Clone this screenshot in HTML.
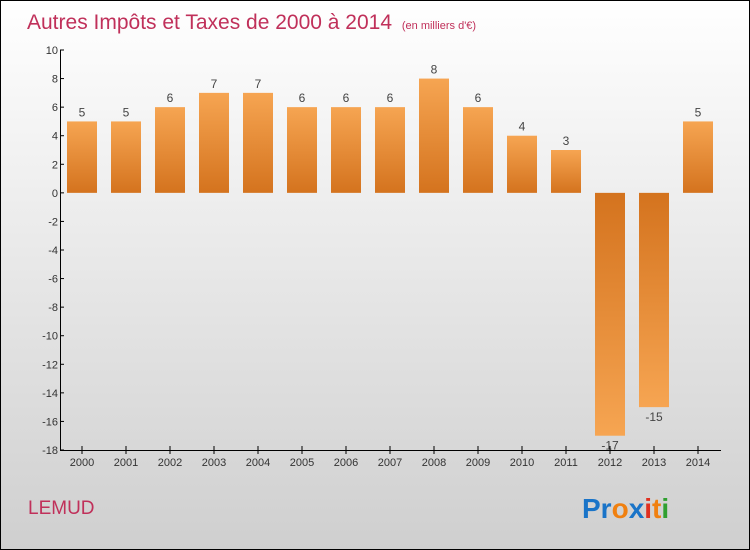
<!DOCTYPE html>
<html><head><meta charset="utf-8"><style>
body{margin:0}
svg{display:block;font-family:"Liberation Sans",sans-serif}
</style></head><body>
<svg id="c" width="750" height="550">
<defs>
<linearGradient id="bg" x1="0" y1="0" x2="0" y2="1"><stop offset="0" stop-color="#ffffff"/><stop offset="1" stop-color="#cfcfcf"/></linearGradient>
<linearGradient id="pos" x1="0" y1="0" x2="0" y2="1"><stop offset="0" stop-color="#f6a552"/><stop offset="1" stop-color="#d4731e"/></linearGradient>
<linearGradient id="neg" x1="0" y1="0" x2="0" y2="1"><stop offset="0" stop-color="#d4731e"/><stop offset="1" stop-color="#f6a552"/></linearGradient>
</defs>
<rect x="0.5" y="0.5" width="749" height="549" fill="url(#bg)" stroke="#000"/>
<text x="27" y="29" font-size="21" fill="#c0305a">Autres Impôts et Taxes de 2000 à 2014 <tspan font-size="11" dx="4">(en milliers d'€)</tspan></text>
<g id="plot"></g>
<text x="28" y="514" font-size="19" fill="#c0305a">LEMUD</text>
<text x="582" y="518" font-size="28" font-weight="bold"><tspan fill="#1a74c8">Pr</tspan><tspan fill="#f08010">o</tspan><tspan fill="#1a74c8">x</tspan><tspan fill="#e03020">i</tspan><tspan fill="#f08010">t</tspan><tspan fill="#30a030">i</tspan></text>
</svg>
<script>
const categories=["2000","2001","2002","2003","2004","2005","2006","2007","2008","2009","2010","2011","2012","2013","2014"];
const values=[5,5,6,7,7,6,6,6,8,6,4,3,-17,-15,5];
const labels=["5","5","6","7","7","6","6","6","8","6","4","3","-17","-15","5"];
const yTicks=[10,8,6,4,2,0,-2,-4,-6,-8,-10,-12,-14,-16,-18];
const NS="http://www.w3.org/2000/svg";
const g=document.getElementById('plot');
const yMin=-18,yMax=10,plotTop=50,plotBot=450;
const y=v=>plotTop+(yMax-v)/(yMax-yMin)*(plotBot-plotTop);
const x=i=>82+i*44;
function mk(t,a){const e=document.createElementNS(NS,t);for(const k in a)e.setAttribute(k,a[k]);g.appendChild(e);return e;}
categories.forEach((c,i)=>{
 const v=values[i];const y0=y(0),y1=y(v);
 const r=mk('rect',{x:x(i)-15,y:Math.min(y0,y1),width:30,height:Math.abs(y1-y0),fill:v>=0?'url(#pos)':'url(#neg)'});
 
 
 const t=mk('text',{x:x(i),y:v>=0?y1-5:y1+14,'font-size':12,fill:'#444','text-anchor':'middle'});
 t.textContent=labels[i];
 
 
 const tk=mk('line',{x1:x(i),x2:x(i),y1:plotBot-4,y2:plotBot+4,stroke:'#000'});
 
 
 const xl=mk('text',{x:x(i),y:plotBot+16,'font-size':11,fill:'#333','text-anchor':'middle'});
 xl.textContent=c;
 
 
});
yTicks.forEach(v=>{
 const tk=mk('line',{x1:60,x2:64,y1:y(v),y2:y(v),stroke:'#000'});
 
 
 const t=mk('text',{x:58,y:y(v)+4,'font-size':11,fill:'#333','text-anchor':'end'});
 t.textContent=v;
 
 
});
const ya=mk('line',{x1:60.5,x2:60.5,y1:plotTop,y2:plotBot,stroke:'#000'});


const xa=mk('line',{x1:60,x2:721,y1:plotBot+0.5,y2:plotBot+0.5,stroke:'#000'});


</script>
</body></html>
